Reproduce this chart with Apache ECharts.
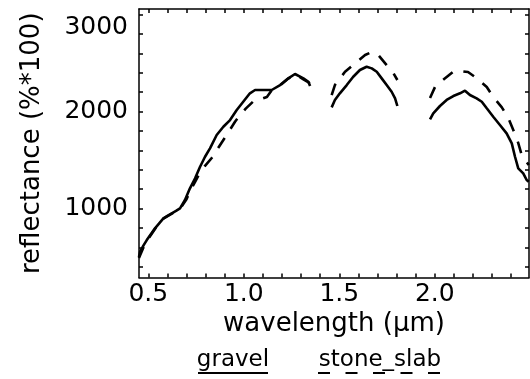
<!DOCTYPE html>
<html>
<head>
<meta charset="utf-8">
<script src="https://cdn.jsdelivr.net/npm/echarts@6/dist/echarts.min.js"></script>
<style>html,body{margin:0;padding:0;background:#fff}#c{width:530px;height:379px}</style>
</head>
<body>
<div id="c"></div>
<script>
// ---- data ----
var seriesNames = ['gravel', 'stone_slab'];
var gravelWave = [0.451,0.457,0.475,0.492,0.515,0.535,0.558,0.579,0.600,0.623,0.645,0.666,0.692,0.718,0.745,0.771,0.797,0.823,0.858,0.893,0.928,0.963,0.997,1.032,1.059,1.101,1.146,1.190,1.233,1.268,1.312,1.338,1.347,
  1.40,
  1.460,1.477,1.503,1.539,1.573,1.608,1.643,1.670,1.696,1.722,1.748,1.774,1.792,1.804,
  1.89,
  1.975,1.992,2.027,2.062,2.097,2.132,2.158,2.184,2.219,2.246,2.272,2.306,2.341,2.376,2.403,2.420,2.437,2.463,2.481,2.492];
var gravelRefl = [500,555,620,675,740,796,850,899,925,951,975,1002,1088,1208,1311,1431,1534,1621,1758,1843,1912,2016,2101,2188,2222,2222,2222,2273,2342,2387,2342,2307,2263,
  null,
  2043,2119,2188,2273,2359,2428,2462,2445,2410,2342,2273,2204,2136,2057,
  null,
  1920,1982,2057,2119,2160,2188,2215,2170,2136,2101,2033,1946,1861,1775,1672,1534,1414,1363,1294,1276];
var stoneWave = [0.451,0.475,0.492,0.535,0.579,0.623,0.666,0.700,0.720,0.745,0.770,0.797,0.832,0.876,0.910,0.954,0.980,1.010,1.048,1.085,1.121,1.146,1.190,1.233,1.268,1.310,1.347,
  1.40,
  1.460,1.477,1.530,1.591,1.635,1.670,1.704,1.748,1.783,1.804,
  1.89,
  1.975,2.001,2.043,2.095,2.132,2.174,2.219,2.272,2.306,2.350,2.385,2.415,2.437,2.455,2.492];
var stoneRefl = [490,600,665,790,895,948,995,1095,1185,1275,1370,1440,1521,1655,1758,1895,1964,2030,2101,2125,2150,2220,2270,2340,2385,2335,2290,
  null,
  2170,2273,2410,2510,2583,2614,2583,2479,2397,2325,
  null,
  2139,2253,2325,2407,2418,2407,2345,2253,2150,2046,1933,1789,1675,1551,1449];
var xTicks = [0.5,0.6,0.7,0.8,0.9,1.0,1.1,1.2,1.3,1.4,1.5,1.6,1.7,1.8,1.9,2.0,2.1,2.2,2.3,2.4];
var xLabels = [0.5,1.0,1.5,2.0];
var yTicks = [400,600,800,1000,1200,1400,1600,1800,2000,2200,2400,2600,2800,3000];
var yLabels = [1000,2000,3000];

function pairs(xs, ys) { return xs.map(function (x, i) { return [x, ys[i]]; }); }

var FONT = 'DejaVu Sans';
var X_MIN = 0.4513, X_MAX = 2.4932, Y_MIN = 289, Y_MAX = 3057;
var boxLine = { show: true, lineStyle: { color: '#000', width: 1.5 } };

var chart = echarts.init(document.getElementById('c'), null, { renderer: 'canvas' });
chart.setOption({
  animation: false,
  backgroundColor: '#fff',
  grid: { left: 139, right: 1, top: 9, bottom: 101.5, containLabel: false },
  xAxis: [{
    type: 'value', position: 'bottom', min: X_MIN, max: X_MAX,
    axisLine: boxLine,
    axisTick: { show: true, inside: true, length: 4, customValues: xTicks, lineStyle: { color: '#000', width: 1.5 } },
    axisLabel: { customValues: xLabels, formatter: function (v) { return v.toFixed(1); },
      fontFamily: FONT, fontSize: 25, color: '#000', margin: 4 },
    splitLine: { show: false },
    name: 'wavelength (\u00b5m)', nameLocation: 'middle', nameGap: 24,
    nameTextStyle: { fontFamily: FONT, fontSize: 26, color: '#000' }
  }, {
    type: 'value', position: 'top', min: X_MIN, max: X_MAX,
    axisLine: boxLine,
    axisTick: { show: true, inside: true, length: 4, customValues: xTicks, lineStyle: { color: '#000', width: 1.5 } },
    axisLabel: { show: false }, splitLine: { show: false }
  }],
  yAxis: [{
    type: 'value', position: 'left', min: Y_MIN, max: Y_MAX,
    axisLine: boxLine,
    axisTick: { show: true, inside: true, length: 4, customValues: yTicks, lineStyle: { color: '#000', width: 1.5 } },
    axisLabel: { customValues: yLabels, fontFamily: FONT, fontSize: 25, color: '#000', margin: 11,
      formatter: function (v) { return v === 3000 ? '{low|' + v + '}' : String(v); },
      rich: { low: { fontFamily: FONT, fontSize: 25, color: '#000', padding: [26, 0, 0, 0] } } },
    splitLine: { show: false },
    name: 'reflectance (%*100)', nameLocation: 'middle', nameGap: 94,
    nameTextStyle: { fontFamily: FONT, fontSize: 26, color: '#000' }
  }, {
    type: 'value', position: 'right', min: Y_MIN, max: Y_MAX,
    axisLine: boxLine,
    axisTick: { show: true, inside: true, length: 4, customValues: yTicks, lineStyle: { color: '#000', width: 1.5 } },
    axisLabel: { show: false }, splitLine: { show: false }
  }],
  series: [{
    name: seriesNames[0], type: 'line', xAxisIndex: 0, yAxisIndex: 0,
    data: pairs(gravelWave, gravelRefl), showSymbol: false, connectNulls: false,
    lineStyle: { color: '#000', width: 2.6, type: 'solid' }
  }, {
    name: seriesNames[1], type: 'line', xAxisIndex: 0, yAxisIndex: 0,
    data: pairs(stoneWave, stoneRefl), showSymbol: false, connectNulls: false,
    lineStyle: { color: '#000', width: 2.6, type: [12, 11] }
  }],
  graphic: [
    { type: 'text', x: 233, y: 360, style: { text: seriesNames[0], font: '23px "DejaVu Sans"', fill: '#000', textAlign: 'center', textVerticalAlign: 'middle' } },
    { type: 'line', shape: { x1: 198, y1: 373, x2: 268, y2: 373 }, style: { stroke: '#000', lineWidth: 2 } },
    { type: 'text', x: 380, y: 360, style: { text: seriesNames[1], font: '23px "DejaVu Sans"', fill: '#000', textAlign: 'center', textVerticalAlign: 'middle' } },
    { type: 'line', shape: { x1: 318, y1: 373, x2: 442, y2: 373 }, style: { stroke: '#000', lineWidth: 2, lineDash: [12, 15.5] } }
  ]
});
</script>
</body>
</html>
